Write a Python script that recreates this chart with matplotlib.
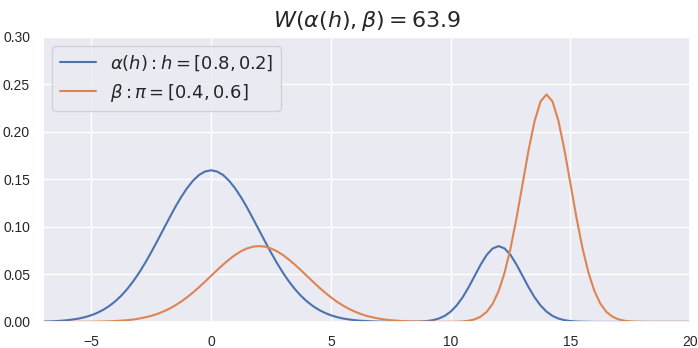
import matplotlib
matplotlib.use("Agg")
import matplotlib.pyplot as plt
import numpy as np
import seaborn as sns

# x grid, step 0.25 from -7 to 20 (109 points)
x = np.arange(-7.0, 20.001, 0.25)

# alpha(h): h = [0.8, 0.2]
alpha_y = [
    0.0003, 0.0005, 0.0008, 0.0012, 0.0018, 0.0026, 0.0036, 0.0051, 0.0070,
    0.0095, 0.0127, 0.0167, 0.0216, 0.0275, 0.0345, 0.0426, 0.0518, 0.0620,
    0.0731, 0.0848, 0.0968, 0.1088, 0.1205, 0.1313, 0.1408, 0.1487, 0.1547,
    0.1583, 0.1596,
    0.1583, 0.1547, 0.1487, 0.1408, 0.1313, 0.1205, 0.1088, 0.0968, 0.0848,
    0.0731, 0.0620, 0.0518, 0.0426, 0.0345, 0.0275, 0.0216, 0.0167, 0.0127,
    0.0095, 0.0070, 0.0051, 0.0036, 0.0026, 0.0018, 0.0012, 0.0008, 0.0005,
    0.0003,
    0.0002, 0.0001, 0.0001, 0.0001,
    0.0001, 0.0002, 0.0004, 0.0009, 0.0018, 0.0035, 0.0063, 0.0108, 0.0173,
    0.0259, 0.0365, 0.0484, 0.0602, 0.0704, 0.0773, 0.0798,
    0.0773, 0.0704, 0.0602, 0.0484, 0.0365, 0.0259, 0.0173, 0.0108, 0.0063,
    0.0035, 0.0018, 0.0009, 0.0004, 0.0002, 0.0001, 0.0000,
    0.0000, 0.0000, 0.0000, 0.0000, 0.0000, 0.0000, 0.0000, 0.0000, 0.0000,
    0.0000, 0.0000, 0.0000, 0.0000, 0.0000, 0.0000, 0.0000,
]

# beta: pi = [0.4, 0.6]
beta_y = [
    0.0000, 0.0000, 0.0000, 0.0000, 0.0000, 0.0000, 0.0001, 0.0001, 0.0002,
    0.0003, 0.0004, 0.0006, 0.0009, 0.0013, 0.0018, 0.0025, 0.0035, 0.0048,
    0.0063, 0.0083, 0.0108, 0.0138, 0.0173, 0.0213, 0.0259, 0.0310, 0.0365,
    0.0424, 0.0484, 0.0544, 0.0602, 0.0656, 0.0704, 0.0744, 0.0773, 0.0792,
    0.0798,
    0.0792, 0.0773, 0.0744, 0.0704, 0.0656, 0.0602, 0.0544, 0.0484, 0.0424,
    0.0365, 0.0310, 0.0259, 0.0213, 0.0173, 0.0138, 0.0108, 0.0083, 0.0063,
    0.0048, 0.0035, 0.0025, 0.0018, 0.0013, 0.0009, 0.0006, 0.0004, 0.0003,
    0.0002, 0.0001, 0.0001,
    0.0000,
    0.0001, 0.0002, 0.0005, 0.0012, 0.0027, 0.0055, 0.0105, 0.0190, 0.0324,
    0.0518, 0.0777, 0.1096, 0.1452, 0.1807, 0.2112, 0.2320, 0.2394,
    0.2320, 0.2112, 0.1807, 0.1452, 0.1096, 0.0777, 0.0518, 0.0324, 0.0190,
    0.0105, 0.0055, 0.0027, 0.0012, 0.0005, 0.0002, 0.0001,
    0.0000, 0.0000, 0.0000, 0.0000, 0.0000, 0.0000, 0.0000, 0.0000,
]

labels = [r"$\alpha(h): h = [0.8, 0.2]$", r"$\beta: \pi = [0.4, 0.6]$"]
title = r"$W(\alpha(h), \beta) = 63.9$"

sns.set_theme(style="darkgrid")
plt.rcParams["font.family"] = ["Liberation Sans", "DejaVu Sans"]

fig, ax = plt.subplots(figsize=(6.98, 3.48), dpi=100)
fig.subplots_adjust(left=0.062, right=0.989, top=0.894, bottom=0.075)

ax.plot(x, alpha_y, label=labels[0], linewidth=1.5)
ax.plot(x, beta_y, label=labels[1], linewidth=1.5)

ax.set_xlim(-7, 20)
ax.set_ylim(0, 0.3)
ax.set_xticks([-5, 0, 5, 10, 15, 20])
ax.set_yticks(np.arange(0, 0.301, 0.05))
ax.yaxis.set_major_formatter(matplotlib.ticker.FormatStrFormatter("%.2f"))
ax.tick_params(labelsize=10)
ax.set_title(title, fontsize=16, pad=7)
ax.legend(loc="upper left", fontsize=13)

fig.savefig("out.png", dpi=100)
